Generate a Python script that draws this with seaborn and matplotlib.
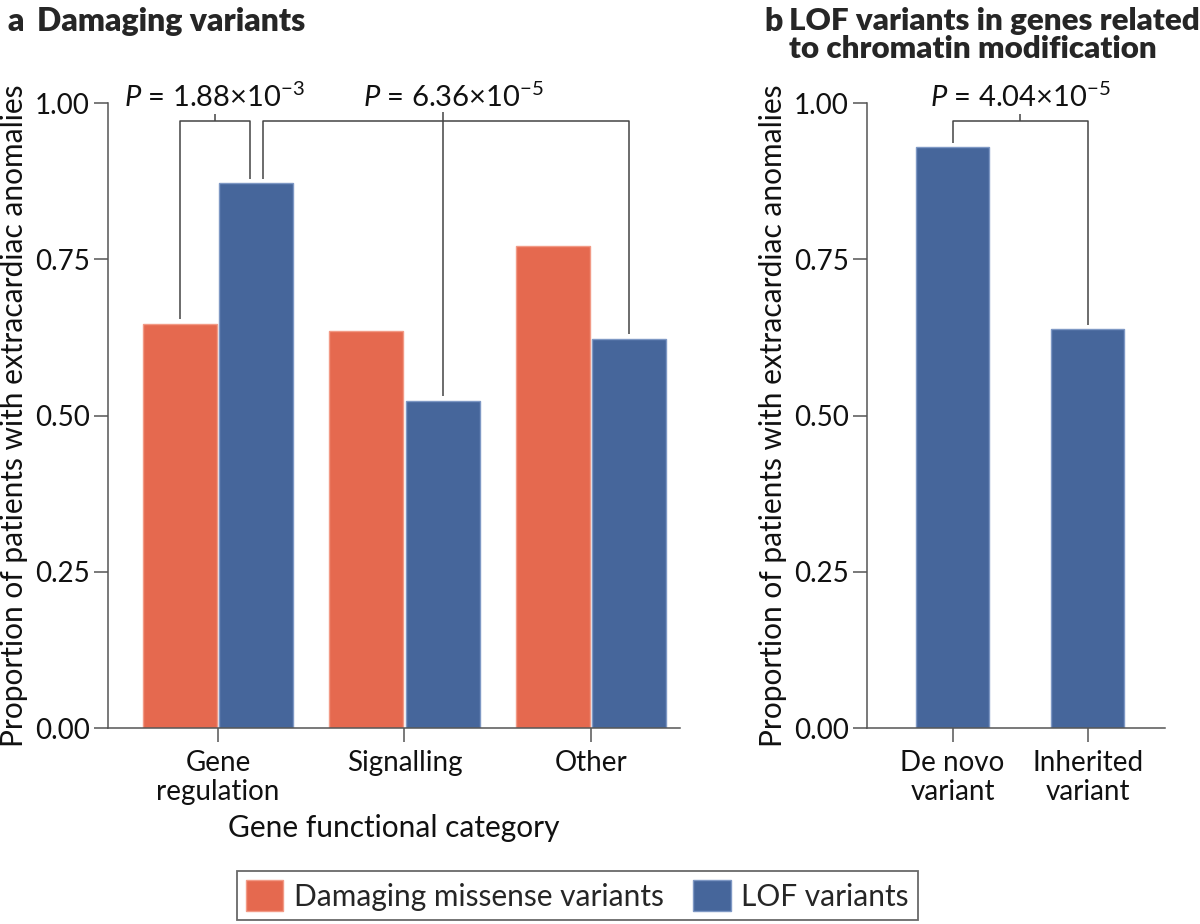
import pandas as pd
import seaborn as sns
import matplotlib.pyplot as plt
from matplotlib.patches import Patch

#######################################################################
# Data
#######################################################################

categories = ["Gene\nregulation", "Signalling", "Other"]
variant_types = ["Damaging missense variants", "LOF variants"]
missense_values = [0.647, 0.635, 0.772]
lof_values = [0.872, 0.524, 0.623]

origin_labels = ["De novo\nvariant", "Inherited\nvariant"]
chromatin_lof_values = [0.929, 0.638]

p_text_a = ["1.88×10$^{-3}$", "6.36×10$^{-5}$"]
p_text_b = "4.04×10$^{-5}$"

orange = "#E5694F"
blue = "#46669B"
orange_edge = "#F29A86"
blue_edge = "#7E98C4"
line_col = "#555555"
text_col = "#111111"

#######################################################################
# Style
#######################################################################

sns.set_theme(style="ticks")
plt.rcParams["font.family"] = ["Lato", "DejaVu Sans"]
plt.rcParams["mathtext.fontset"] = "custom"
plt.rcParams["mathtext.rm"] = "Lato"
plt.rcParams["mathtext.it"] = "Lato:italic"

df_a = pd.DataFrame({
    "category": categories * 2,
    "variant": [variant_types[0]] * 3 + [variant_types[1]] * 3,
    "value": missense_values + lof_values,
})
df_b = pd.DataFrame({"origin": origin_labels, "value": chromatin_lof_values})

fig = plt.figure(figsize=(12, 9.24), dpi=100)
ax_a = fig.add_axes([0.09, 0.2121, 0.477, 0.6764])
ax_b = fig.add_axes([0.7225, 0.2121, 0.2483, 0.6764])

#######################################################################
# Bars
#######################################################################

sns.barplot(data=df_a, x="category", y="value", hue="variant",
            hue_order=variant_types,
            palette={variant_types[0]: orange, variant_types[1]: blue},
            width=0.82, gap=0.03, saturation=1, legend=False, ax=ax_a)
sns.barplot(data=df_b, x="origin", y="value", color=blue,
            width=0.54, saturation=1, ax=ax_b)

for bar in ax_a.containers[0]:
    bar.set_edgecolor(orange_edge)
    bar.set_linewidth(1.0)
for bar in list(ax_a.containers[1]) + list(ax_b.containers[0]):
    bar.set_edgecolor(blue_edge)
    bar.set_linewidth(1.0)

for ax in (ax_a, ax_b):
    ax.set_ylim(0, 1)
    ax.set_yticks([0, 0.25, 0.5, 0.75, 1.0])
    ax.set_yticklabels(["0.00", "0.25", "0.50", "0.75", "1.00"])
    sns.despine(ax=ax)
    for s in ("left", "bottom"):
        ax.spines[s].set_color(line_col)
        ax.spines[s].set_linewidth(1.1)
    ax.tick_params(length=10, width=1.1, color=line_col, labelsize=20,
                   labelcolor=text_col, pad=3)
    ax.tick_params(axis="x", pad=6)
    ax.set_ylabel("Proportion of patients with extracardiac anomalies",
                  fontsize=21.5, color=text_col, labelpad=5)
    for lab in ax.get_xticklabels():
        lab.set_linespacing(1.15)

ax_a.set_xlim(-0.59, 2.48)
ax_b.set_xlim(-0.633, 1.57)
ax_a.set_xlabel("Gene functional category", fontsize=21.5, color=text_col,
                labelpad=6)
ax_b.set_xlabel("")

#######################################################################
# P-value brackets
#######################################################################

def center(bar):
    return bar.get_x() + bar.get_width() / 2

def line(ax, xs, ys):
    ax.plot(xs, ys, color="#444444", lw=1.1, clip_on=False,
            solid_capstyle="butt")

top = 0.971
tick_top = 0.983
gap = 0.007
offset = 0.035

miss_bars = ax_a.containers[0]
lof_bars = ax_a.containers[1]

# missense vs LOF in gene regulation
x1 = center(miss_bars[0])
x2 = center(lof_bars[0]) - offset
line(ax_a, [x1, x1, x2, x2],
     [miss_bars[0].get_height() + gap, top, top, lof_bars[0].get_height() + gap])
xm = (x1 + x2) / 2
line(ax_a, [xm, xm], [top, tick_top])
ax_a.text(xm, 0.994, "$P$ = " + p_text_a[0], ha="center", va="baseline",
          fontsize=21, color=text_col)

# LOF gene regulation vs LOF others
x1 = center(lof_bars[0]) + offset
x3 = center(lof_bars[2])
xm = center(lof_bars[1])
line(ax_a, [x1, x1, x3, x3],
     [lof_bars[0].get_height() + gap, top, top, lof_bars[2].get_height() + gap])
line(ax_a, [xm, xm], [lof_bars[1].get_height() + gap, 0.986])
ax_a.text(xm + 0.06, 0.994, "$P$ = " + p_text_a[1], ha="center",
          va="baseline", fontsize=21, color=text_col)

# de novo vs inherited
b_bars = ax_b.containers[0]
x1 = center(b_bars[0])
x2 = center(b_bars[1])
line(ax_b, [x1, x1, x2, x2],
     [b_bars[0].get_height() + gap, top, top, b_bars[1].get_height() + gap])
xm = (x1 + x2) / 2
line(ax_b, [xm, xm], [top, tick_top])
ax_b.text(xm, 0.994, "$P$ = " + p_text_b, ha="center", va="baseline",
          fontsize=21, color=text_col)

#######################################################################
# Titles and legend
#######################################################################

fig.text(0.006, 0.992, "a", fontsize=23, fontweight="heavy", va="top")
fig.text(0.031, 0.992, "Damaging variants", fontsize=23, fontweight="heavy",
         va="top")
fig.text(0.637, 0.992, "b", fontsize=23, fontweight="heavy", va="top")
fig.text(0.6575, 0.992, "LOF variants in genes related\nto chromatin modification",
         fontsize=22.5, fontweight="heavy", va="top", linespacing=0.98)

handles = [Patch(facecolor=orange, edgecolor=orange_edge),
           Patch(facecolor=blue, edgecolor=blue_edge)]
leg = fig.legend(handles, variant_types, loc="lower left",
                 bbox_to_anchor=(0.1975, 0.004), ncol=2, frameon=True,
                 fancybox=False, edgecolor="#444444", fontsize=21.5,
                 handlelength=1.25, handleheight=1.25, columnspacing=1.0,
                 handletextpad=0.35, borderpad=0.3, borderaxespad=0)
leg.get_frame().set_linewidth(1.3)

fig.savefig("out.png", dpi=100, facecolor="white")
